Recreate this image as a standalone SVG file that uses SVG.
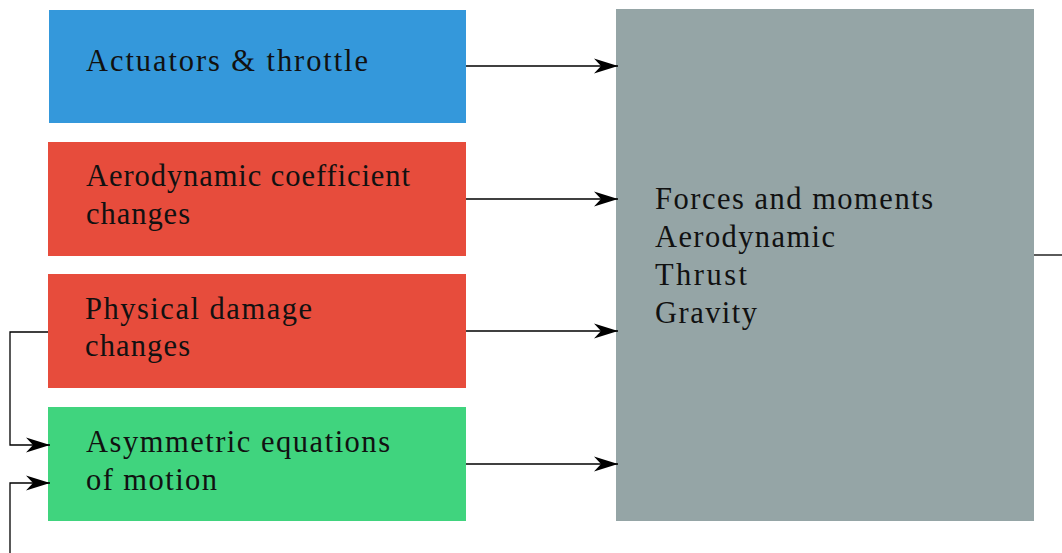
<svg xmlns="http://www.w3.org/2000/svg" width="1062" height="553" viewBox="0 0 1062 553">
  <defs>
    <style>
      .lbl { font-family: "Liberation Serif", "Times New Roman", serif; font-size: 30.5px; fill: #111; }
      .wire { fill: none; stroke: #000; stroke-width: 1.3; }
    </style>
    <marker id="stealth" markerUnits="userSpaceOnUse" markerWidth="26" markerHeight="18" viewBox="-25 -9 26 18" refX="0" refY="0" orient="auto">
      <path d="M0,0 L-24,-7.5 L-17,0 L-24,7.5 Z" fill="#000"/>
    </marker>
  </defs>
  <rect width="1062" height="553" fill="#fff"/>

  <g id="node-actuators">
    <rect x="49" y="10" width="417" height="113" fill="#3498db"/>
    <text class="lbl" x="86" y="71" textLength="282">Actuators &amp; throttle</text>
  </g>
  <g id="node-aero">
    <rect x="48" y="142" width="418" height="114" fill="#e74c3c"/>
    <text class="lbl" x="86" y="186" textLength="324">Aerodynamic coefficient</text>
    <text class="lbl" x="86" y="224" textLength="104">changes</text>
  </g>
  <g id="node-damage">
    <rect x="48" y="274" width="418" height="114" fill="#e74c3c"/>
    <text class="lbl" x="85" y="319" textLength="227">Physical damage</text>
    <text class="lbl" x="85" y="356" textLength="105">changes</text>
  </g>
  <g id="node-eom">
    <rect x="48" y="407" width="418" height="114" fill="#40d47e"/>
    <text class="lbl" x="86" y="452" textLength="304">Asymmetric equations</text>
    <text class="lbl" x="86" y="490" textLength="131">of motion</text>
  </g>
  <g id="node-forces">
    <rect x="616" y="9" width="418" height="512" fill="#95a5a6"/>
    <text class="lbl" x="655" y="209" textLength="278">Forces and moments</text>
    <text class="lbl" x="655" y="247" textLength="180">Aerodynamic</text>
    <text class="lbl" x="655" y="285" textLength="92">Thrust</text>
    <text class="lbl" x="655" y="323" textLength="102">Gravity</text>
  </g>

  <g id="connectors">
    <path class="wire" d="M466,66 H618" marker-end="url(#stealth)"/>
    <path class="wire" d="M466,199 H618" marker-end="url(#stealth)"/>
    <path class="wire" d="M466,331 H618" marker-end="url(#stealth)"/>
    <path class="wire" d="M466,464 H618" marker-end="url(#stealth)"/>
    <path class="wire" d="M48,332 H10 V445 H50" marker-end="url(#stealth)"/>
    <path class="wire" d="M10,553 V483 H50" marker-end="url(#stealth)"/>
    <path class="wire" d="M1034,255 H1062"/>
  </g>
</svg>
